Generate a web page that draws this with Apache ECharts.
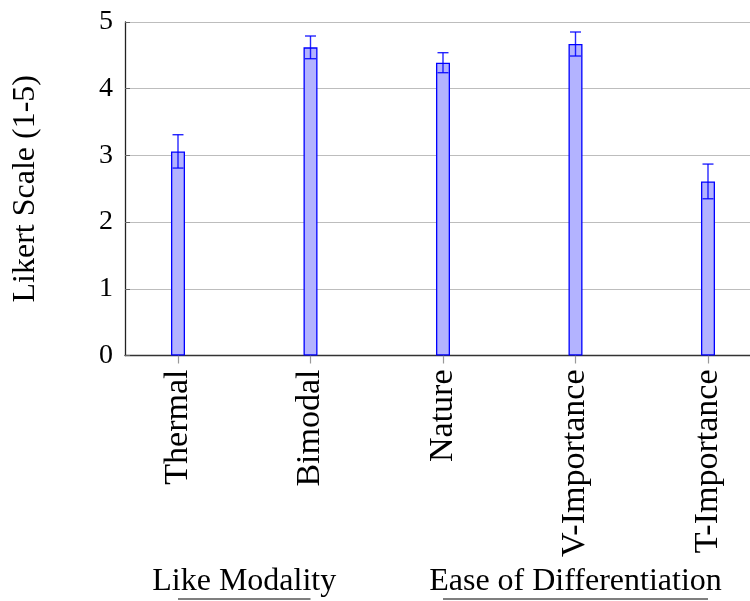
<!DOCTYPE html>
<html>
<head>
<meta charset="utf-8">
<script src="https://cdn.jsdelivr.net/npm/echarts@6/dist/echarts.min.js"></script>
<style>
  html, body { margin: 0; padding: 0; background: #fff; }
  #chart { width: 750px; height: 601px; }
</style>
</head>
<body>
<div id="chart"></div>
<script>
// Survey ratings: mean score per question with its error margin
const categories = ['Thermal', 'Bimodal', 'Nature', 'V-Importance', 'T-Importance'];
const means = [3.06, 4.62, 4.39, 4.67, 2.61];
const errors = [0.25, 0.17, 0.15, 0.18, 0.26];
const yTicks = [0, 1, 2, 3, 4, 5];
// Question groups: label plus first/last category index
const groupLabels = ['Like Modality', 'Ease of Differentiation'];
const groupStart = [0, 2];
const groupEnd = [1, 4];

const FONT = '"Liberation Serif", "DejaVu Serif", serif';
const BLUE = '#0000ff';

const chart = echarts.init(document.getElementById('chart'), null, { renderer: 'canvas' });

const barData = means.map((v, i) => [i, v]);
const errData = means.map((v, i) => [i, v - errors[i], v + errors[i]]);

chart.setOption({
  animation: false,
  grid: { left: 125, right: 0, top: 22, bottom: 245.5, containLabel: false },
  xAxis: {
    type: 'value',
    min: -0.4,
    max: 4.317,
    axisLine: { show: true, onZero: false, lineStyle: { color: '#333', width: 1.3 } },
    splitLine: { show: false },
    axisTick: { show: true, customValues: categories.map((c, i) => i), length: 8, inside: false,
      lineStyle: { color: '#999', width: 1.2 } },
    axisLabel: {
      customValues: categories.map((c, i) => i),
      rotate: 90,
      margin: 14,
      formatter: v => categories[Math.round(v)] || '',
      fontFamily: FONT, fontSize: 34, color: '#000'
    }
  },
  yAxis: {
    type: 'value',
    min: 0, max: 5, interval: 1,
    name: 'Likert Scale (1-5)',
    nameLocation: 'middle',
    nameGap: 83,
    nameTextStyle: { fontFamily: FONT, fontSize: 32, color: '#000' },
    axisLine: { show: true, onZero: false, lineStyle: { color: '#222', width: 1.3 } },
    axisTick: { show: true, inside: true, length: 5, lineStyle: { color: '#666', width: 1 } },
    splitLine: { show: true, lineStyle: { color: '#bdbdbd', width: 1.2 } },
    axisLabel: {
      formatter: v => yTicks.includes(v) ? String(v) : '',
      margin: 12, fontFamily: FONT, fontSize: 28, color: '#000'
    }
  },
  series: [
    {
      type: 'bar',
      data: barData,
      barWidth: 14,
      itemStyle: { color: '#b3b3ff', borderColor: BLUE, borderWidth: 1.3 },
      z: 2
    },
    {
      type: 'custom',
      data: errData,
      z: 3,
      renderItem: function (params, api) {
        const x = api.value(0);
        const lo = api.coord([x, api.value(1)]);
        const hi = api.coord([x, api.value(2)]);
        const cap = 5.5;
        const style = { stroke: BLUE, lineWidth: 1.4, opacity: 0.85 };
        return {
          type: 'group',
          children: [
            { type: 'line', shape: { x1: lo[0], y1: lo[1], x2: hi[0], y2: hi[1] }, style: style },
            { type: 'line', shape: { x1: lo[0] - cap, y1: lo[1], x2: lo[0] + cap, y2: lo[1] }, style: style },
            { type: 'line', shape: { x1: hi[0] - cap, y1: hi[1], x2: hi[0] + cap, y2: hi[1] }, style: style }
          ]
        };
      }
    }
  ]
});

// Group captions underneath the rotated category labels, with a rule spanning each group
const groupGraphics = [];
groupLabels.forEach((label, g) => {
  const x1 = chart.convertToPixel({ xAxisIndex: 0 }, groupStart[g]);
  const x2 = chart.convertToPixel({ xAxisIndex: 0 }, groupEnd[g]);
  const mid = (x1 + x2) / 2;
  groupGraphics.push({
    type: 'text',
    x: mid, y: 582,
    style: { text: label, fontFamily: FONT, fontSize: 32, fill: '#000', align: 'center', verticalAlign: 'middle' }
  });
  groupGraphics.push({
    type: 'line',
    shape: { x1: x1, y1: 599, x2: x2, y2: 599 },
    style: { stroke: '#555', lineWidth: 1.6 }
  });
});
chart.setOption({ graphic: groupGraphics });
</script>
</body>
</html>
